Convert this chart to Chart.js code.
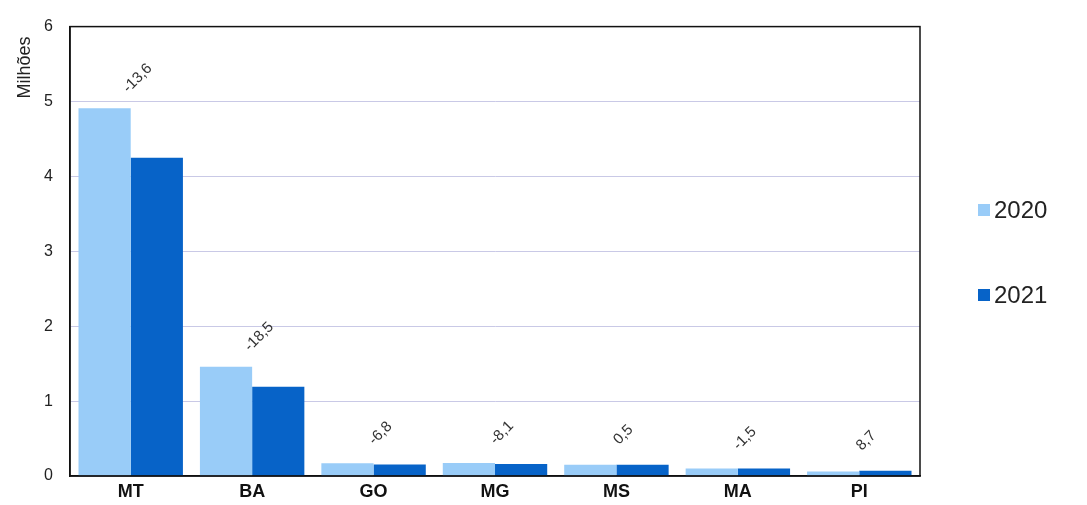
<!DOCTYPE html>
<html>
<head>
<meta charset="utf-8">
<script src="https://cdn.jsdelivr.net/npm/chart.js@4"></script>
<style>
  html, body { margin: 0; padding: 0; background: #fff; }
  #wrap { position: relative; width: 1087px; height: 505px; }
  #legend { position: absolute; left: 978px; top: 192px; font-family: Arial, "Liberation Sans", sans-serif; font-size: 24px; color: #222; }
  #legend div { display: flex; align-items: center; height: 36px; margin-bottom: 49px; }
  #legend span.box { display: inline-block; width: 12px; height: 12px; margin-right: 4px; }
</style>
</head>
<body>
<div id="wrap">
  <canvas id="c" width="1087" height="505"></canvas>
  <div id="legend"></div>
</div>
<script>
const CATEGORIES = ["MT", "BA", "GO", "MG", "MS", "MA", "PI"];
const SERIES_NAMES = ["2020", "2021"];
const VALUES_2020 = [4.91, 1.46, 0.17, 0.175, 0.15, 0.10, 0.06];
const VALUES_2021 = [4.25, 1.19, 0.155, 0.16, 0.15, 0.10, 0.07];
const CHANGE_LABELS = ["-13,6", "-18,5", "-6,8", "-8,1", "0,5", "-1,5", "8,7"];
const Y_TICKS = [0, 1, 2, 3, 4, 5, 6];
const Y_TITLE = "Milhões";

const COLORS = ["#99CCF8", "#0763C8"];
const FONT = "Arial, 'Liberation Sans', sans-serif";

// legenda em HTML
document.getElementById("legend").innerHTML = SERIES_NAMES.map((n, i) =>
  `<div><span class="box" style="background:${COLORS[i]}"></span>${n}</div>`
).join("");

// moldura da área do gráfico + título do eixo Y
const frame = {
  id: "frame",
  afterDraw(chart) {
    const { ctx, chartArea: a } = chart;
    ctx.save();
    ctx.strokeStyle = "#111";
    ctx.lineWidth = 1.5;
    ctx.strokeRect(a.left, a.top, a.right - a.left, a.bottom - a.top);
    // título "Milhões" junto ao topo do eixo
    ctx.translate(a.left - 45, a.top + 41);
    ctx.rotate(-Math.PI / 2);
    ctx.font = `18px ${FONT}`;
    ctx.fillStyle = "#222";
    ctx.textAlign = "center";
    ctx.textBaseline = "middle";
    ctx.fillText(Y_TITLE, 0, 0);
    ctx.restore();
  },
};

// rótulos de variação (%) rotacionados
const changeLabels = {
  id: "changeLabels",
  afterDatasetsDraw(chart) {
    const { ctx } = chart;
    const x = chart.scales.x, y = chart.scales.y;
    ctx.save();
    ctx.font = `15px ${FONT}`;
    ctx.fillStyle = "#333";
    ctx.textAlign = "center";
    ctx.textBaseline = "middle";
    CATEGORIES.forEach((c, i) => {
      const px = x.getPixelForValue(i) + 7;
      const py = y.getPixelForValue(Math.max(VALUES_2020[i], VALUES_2021[i])) - 30;
      ctx.save();
      ctx.translate(px, py);
      ctx.rotate(-45 * Math.PI / 180);
      ctx.fillText(CHANGE_LABELS[i], 0, 0);
      ctx.restore();
    });
    ctx.restore();
  },
};

new Chart(document.getElementById("c"), {
  type: "bar",
  data: {
    labels: CATEGORIES,
    datasets: [
      { label: SERIES_NAMES[0], data: VALUES_2020, backgroundColor: COLORS[0], borderWidth: 0 },
      { label: SERIES_NAMES[1], data: VALUES_2021, backgroundColor: COLORS[1], borderWidth: 0 },
    ],
  },
  options: {
    responsive: false,
    animation: false,
    devicePixelRatio: 1,
    layout: { padding: { left: 0, top: 24, right: 167, bottom: 0 } },
    datasets: { bar: { categoryPercentage: 0.86, barPercentage: 1 } },
    plugins: { legend: { display: false }, tooltip: { enabled: false } },
    scales: {
      x: {
        grid: { display: false, drawTicks: false },
        border: { color: "#111", width: 1.5 },
        ticks: { color: "#111", padding: 5, font: { family: FONT, size: 18, weight: "bold" } },
        afterFit: (s) => { s.height = 29; },
      },
      y: {
        min: 0,
        max: 6,
        afterBuildTicks: (s) => { s.ticks = Y_TICKS.map(v => ({ value: v })); },
        grid: { color: "#C9C9E6", lineWidth: 1, drawTicks: false },
        border: { color: "#111", width: 1.5 },
        ticks: { color: "#222", padding: 17, font: { family: FONT, size: 16 } },
        afterFit: (s) => { s.width = 70; },
      },
    },
  },
  plugins: [frame, changeLabels],
});
</script>
</body>
</html>
